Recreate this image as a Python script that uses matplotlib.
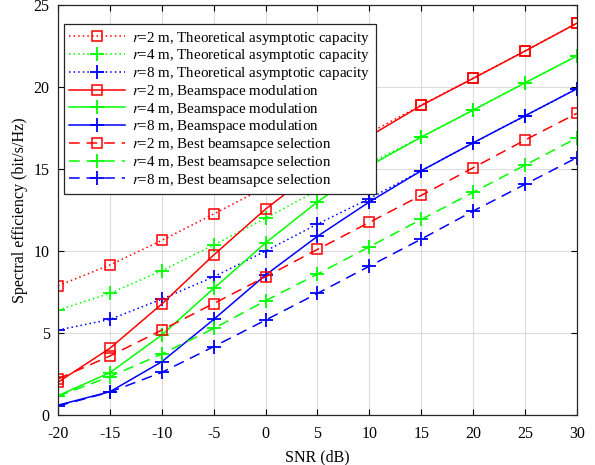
import matplotlib
matplotlib.use("Agg")
import matplotlib.pyplot as plt

snr = [-20, -15, -10, -5, 0, 5, 10, 15, 20, 25, 30]

theo_r2 = [7.88, 9.15, 10.65, 12.26, 13.9, 15.5, 17.2, 18.9, 20.55, 22.2, 23.9]
theo_r4 = [6.4, 7.42, 8.8, 10.37, 12.0, 13.7, 15.35, 16.95, 18.6, 20.26, 21.9]
theo_r8 = [5.18, 5.83, 7.07, 8.43, 10.0, 11.65, 13.2, 14.9, 16.6, 18.25, 19.9]

bm_r2 = [2.0, 4.07, 6.77, 9.76, 12.56, 15.0, 17.0, 18.88, 20.53, 22.2, 23.9]
bm_r4 = [1.18, 2.58, 4.88, 7.72, 10.5, 13.0, 15.2, 16.95, 18.6, 20.26, 21.9]
bm_r8 = [0.6, 1.42, 3.25, 5.83, 8.54, 10.9, 13.0, 14.9, 16.6, 18.25, 19.9]

bs_r2 = [2.2, 3.6, 5.18, 6.8, 8.43, 10.1, 11.75, 13.4, 15.08, 16.77, 18.4]
bs_r4 = [1.15, 2.34, 3.72, 5.28, 6.97, 8.6, 10.26, 11.93, 13.58, 15.24, 16.9]
bs_r8 = [0.55, 1.4, 2.6, 4.17, 5.79, 7.42, 9.08, 10.73, 12.44, 14.07, 15.7]

labels = [
    "$r$=2 m, Theoretical asymptotic capacity",
    "$r$=4 m, Theoretical asymptotic capacity",
    "$r$=8 m, Theoretical asymptotic capacity",
    "$r$=2 m, Beamspace modulation",
    "$r$=4 m, Beamspace modulation",
    "$r$=8 m, Beamspace modulation",
    "$r$=2 m, Best beamsapce selection",
    "$r$=4 m, Best beamsapce selection",
    "$r$=8 m, Best beamsapce selection",
]

plt.rcParams['font.family'] = ['Liberation Serif', 'DejaVu Serif']
plt.rcParams['mathtext.fontset'] = 'stix'

fig = plt.figure(figsize=(5.95, 4.65), dpi=100)
ax = fig.add_axes([0.0975, 0.1075, 0.8722, 0.8815])

series = [theo_r2, theo_r4, theo_r8, bm_r2, bm_r4, bm_r8, bs_r2, bs_r4, bs_r8]
colors = ['#ff0000', '#00ff00', '#0000ff'] * 3
styles = [(0, (1, 2))] * 3 + ['-'] * 3 + [(0, (7, 4.5))] * 3
markers = ['s', '+', '+'] * 3

for ys, c, ls, m, lab in zip(series, colors, styles, markers, labels):
    if m == 's':
        ax.plot(snr, ys, color=c, linestyle=ls, linewidth=1.1, marker='s',
                markersize=7.5, markerfacecolor='none', markeredgecolor=c,
                markeredgewidth=1.1, label=lab)
    else:
        ax.plot(snr, ys, color=c, linestyle=ls, linewidth=1.1, marker='+',
                markersize=10, markeredgewidth=1.3, label=lab)

ax.set_xlim(-20, 30)
ax.set_ylim(0, 25)
ax.set_xticks(snr)
ax.set_xticklabels([str(v) for v in snr])
ax.set_yticks([0, 5, 10, 15, 20, 25])
ax.grid(True, color='#dcdcdc', linewidth=0.8)
ax.set_axisbelow(True)
ax.tick_params(direction='in', top=True, right=True, labelsize=11.5, length=4, width=0.8)
ax.tick_params(axis='x', pad=8)
ax.tick_params(axis='y', pad=6)
for s in ax.spines.values():
    s.set_linewidth(0.9)
    s.set_color('#262626')
ax.set_xlabel("SNR (dB)", fontsize=11.5, labelpad=5)
ax.set_ylabel("Spectral efficiency (bit/s/Hz)", fontsize=11.5, labelpad=4)

leg = ax.legend(loc='upper left', bbox_to_anchor=(0.012, 0.953), fontsize=10.8,
                handlelength=3.7, handletextpad=0.5, labelspacing=0.05,
                borderpad=0.35, borderaxespad=0.0, fancybox=False, framealpha=1,
                edgecolor='#262626')
leg.get_frame().set_linewidth(0.9)

fig.savefig("out.png", dpi=100)
